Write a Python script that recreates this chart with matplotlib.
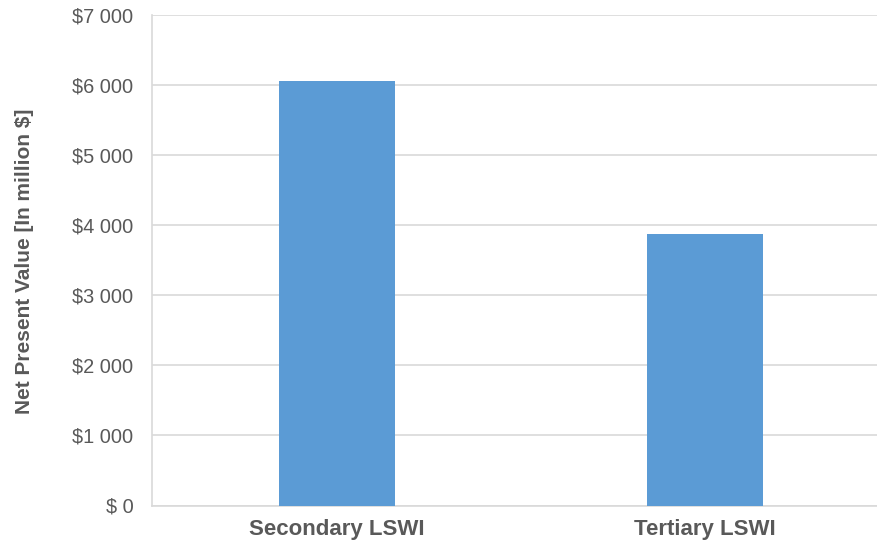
import matplotlib.pyplot as plt

# Net present value per scenario, million $
categories = ["Secondary LSWI", "Tertiary LSWI"]
npv = [6060, 3880]
y_ticks = [0, 1000, 2000, 3000, 4000, 5000, 6000, 7000]
y_tick_labels = ["$ 0", "$1 000", "$2 000", "$3 000", "$4 000",
                 "$5 000", "$6 000", "$7 000"]

plt.rcParams['font.family'] = ['Liberation Sans', 'DejaVu Sans']
text_color = "#595959"
grid_color = "#D9D9D9"

fig = plt.figure(figsize=(8.77, 5.46), dpi=100)
ax = fig.add_axes([152/877, 40.5/546, 1 - 152/877, (505.5 - 15)/546])

x = range(len(categories))
ax.bar(x, npv, width=0.315, color="#5B9BD5", zorder=3)

ax.set_xlim(-0.503, 1.467)
ax.set_ylim(0, 7000)
ax.set_xticks(list(x))
ax.set_xticklabels(categories, fontsize=16, fontweight="bold", color=text_color)
ax.set_yticks(y_ticks)
ax.set_yticklabels(y_tick_labels, fontsize=14.4, color=text_color)
ax.tick_params(axis="both", length=0)
ax.tick_params(axis="y", pad=13.5)
ax.tick_params(axis="x", pad=10)

ax.grid(axis="y", color=grid_color, linewidth=1.2, zorder=0)
for side in ["top", "right"]:
    ax.spines[side].set_visible(False)
for side in ["left", "bottom"]:
    ax.spines[side].set_color(grid_color)
    ax.spines[side].set_linewidth(1.2)

ax.set_ylabel("Net Present Value [In million $]", fontsize=15,
              fontweight="bold", color=text_color)
ax.yaxis.set_label_coords(34/877, (546 - 261)/546, transform=fig.transFigure)

fig.savefig("out.png", dpi=100)
